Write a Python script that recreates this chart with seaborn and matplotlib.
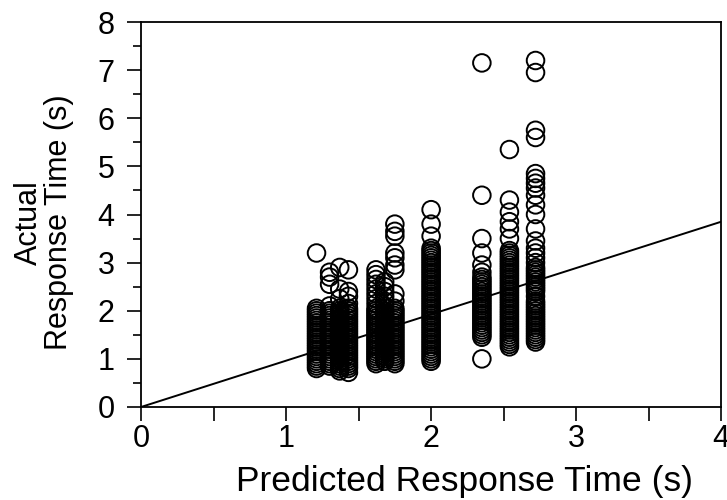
import matplotlib
matplotlib.use("Agg")
import matplotlib.pyplot as plt
import seaborn as sns
import pandas as pd
from matplotlib.ticker import MultipleLocator

# ---- data ----
pred_121 = 1.21
rt_121 = [3.2, 2.05, 2.0, 1.95, 1.9, 1.85, 1.8, 1.75, 1.7, 1.65, 1.6, 1.55, 1.5, 1.45, 1.4,
          1.35, 1.3, 1.25, 1.2, 1.15, 1.1, 1.05, 1.0, 0.95, 0.9, 0.85, 0.8]
pred_130 = 1.30
rt_130 = [2.8, 2.7, 2.55, 2.1, 2.0, 1.95, 1.9, 1.85, 1.8, 1.75, 1.7, 1.65, 1.6, 1.55, 1.5, 1.45,
          1.4, 1.35, 1.3, 1.25, 1.2, 1.15, 1.1, 1.05, 1.0, 0.95, 0.9, 0.85]
pred_137 = 1.37
rt_137 = [2.9, 2.45, 2.25, 2.05, 2.0, 1.95, 1.9, 1.85, 1.8, 1.75, 1.7, 1.65, 1.6, 1.55, 1.5, 1.45,
          1.4, 1.35, 1.3, 1.25, 1.2, 1.15, 1.1, 1.05, 1.0, 0.95, 0.9, 0.85, 0.8, 0.75]
pred_143 = 1.43
rt_143 = [2.85, 2.4, 2.3, 2.15, 2.05, 2.0, 1.95, 1.9, 1.85, 1.8, 1.75, 1.7, 1.65, 1.6, 1.55, 1.5,
          1.45, 1.4, 1.35, 1.3, 1.25, 1.2, 1.15, 1.1, 1.05, 1.0, 0.95, 0.9, 0.85, 0.8, 0.72]
pred_162 = 1.62
rt_162 = [2.85, 2.75, 2.65, 2.55, 2.45, 2.35, 2.25, 2.15, 2.05, 2.0, 1.95, 1.9, 1.85, 1.8, 1.75,
          1.7, 1.65, 1.6, 1.55, 1.5, 1.45, 1.4, 1.35, 1.3, 1.25, 1.2, 1.15, 1.1, 1.05, 1.0, 0.95, 0.9]
pred_168 = 1.68
rt_168 = [2.6, 2.5, 2.4, 2.3, 2.2, 2.1, 2.0, 1.95, 1.9, 1.85, 1.8, 1.75, 1.7, 1.65, 1.6, 1.55,
          1.5, 1.45, 1.4, 1.35, 1.3, 1.25, 1.2, 1.15, 1.1, 1.05, 1.0, 0.95]
pred_175 = 1.75
rt_175 = [3.8, 3.65, 3.55, 3.2, 3.1, 2.95, 2.85, 2.35, 2.2, 2.05, 2.0, 1.95, 1.9, 1.85, 1.8, 1.75,
          1.7, 1.65, 1.6, 1.55, 1.5, 1.45, 1.4, 1.35, 1.3, 1.25, 1.2, 1.15, 1.1, 1.05, 1.0, 0.95, 0.9]
pred_200 = 2.00
rt_200 = [4.1, 3.8, 3.55, 3.3, 3.25, 3.2, 3.15, 3.1, 3.05, 3.0, 2.95, 2.9, 2.85, 2.8, 2.75,
          2.7, 2.65, 2.6, 2.55, 2.5, 2.45, 2.4, 2.35, 2.3, 2.25, 2.2, 2.15, 2.1, 2.05, 2.0,
          1.95, 1.9, 1.85, 1.8, 1.75, 1.7, 1.65, 1.6, 1.55, 1.5, 1.45, 1.4, 1.35, 1.3, 1.25,
          1.2, 1.15, 1.1, 1.05, 1.0, 0.95]
pred_235 = 2.35
rt_235 = [7.15, 4.4, 3.5, 3.2, 2.95, 2.8, 2.7, 2.65, 2.6, 2.55, 2.5, 2.45, 2.4, 2.35, 2.3,
          2.25, 2.2, 2.15, 2.1, 2.05, 2.0, 1.95, 1.9, 1.85, 1.8, 1.75, 1.7, 1.65, 1.6, 1.55,
          1.5, 1.45, 1.0]
pred_254 = 2.54
rt_254 = [5.35, 4.3, 4.05, 3.85, 3.7, 3.5, 3.25, 3.2, 3.15, 3.1, 3.05, 3.0, 2.95, 2.9, 2.85,
          2.8, 2.75, 2.7, 2.65, 2.6, 2.55, 2.5, 2.45, 2.4, 2.35, 2.3, 2.25, 2.2, 2.15, 2.1,
          2.05, 2.0, 1.95, 1.9, 1.85, 1.8, 1.75, 1.7, 1.65, 1.6, 1.55, 1.5, 1.45, 1.4, 1.35,
          1.3, 1.25]
pred_272 = 2.72
rt_272 = [7.2, 6.95, 5.75, 5.6, 4.85, 4.75, 4.65, 4.55, 4.4, 4.2, 4.0, 3.7, 3.45, 3.3, 3.2,
          3.1, 3.0, 2.9, 2.85, 2.8, 2.75, 2.7, 2.65, 2.6, 2.55, 2.5, 2.45, 2.4, 2.3, 2.2,
          2.15, 2.1, 2.05, 2.0, 1.95, 1.9, 1.85, 1.8, 1.75, 1.7, 1.65, 1.6, 1.55, 1.5, 1.45,
          1.4, 1.35]

line_x = [0, 4]
line_y = [0, 3.85]

x_ticks = [0, 1, 2, 3, 4]
y_ticks = [0, 1, 2, 3, 4, 5, 6, 7, 8]

groups = [(pred_121, rt_121), (pred_130, rt_130), (pred_137, rt_137), (pred_143, rt_143),
          (pred_162, rt_162), (pred_168, rt_168), (pred_175, rt_175), (pred_200, rt_200),
          (pred_235, rt_235), (pred_254, rt_254), (pred_272, rt_272)]
rows = []
for p, vals in groups:
    for v in vals:
        rows.append({"predicted": p, "actual": v})
df = pd.DataFrame(rows)

# ---- figure ----
sns.set_theme(style="white")
plt.rcParams['font.family'] = ['Liberation Sans', 'DejaVu Sans']

fig = plt.figure(figsize=(7.27, 5.0), dpi=100)
ax = fig.add_axes([0.194, 0.186, 0.798, 0.770])

sns.lineplot(x=line_x, y=line_y, ax=ax, color="black", linewidth=1.4, zorder=1)
sns.scatterplot(data=df, x="predicted", y="actual", ax=ax, s=160, marker="o",
                facecolor="none", edgecolor="black", linewidth=1.4, zorder=2)

ax.set_xlim(0, 4)
ax.set_ylim(0, 8)
ax.set_xticks(x_ticks)
ax.set_yticks(y_ticks)
ax.xaxis.set_minor_locator(MultipleLocator(0.5))
ax.yaxis.set_minor_locator(MultipleLocator(0.5))
ax.tick_params(axis="both", which="major", direction="out", length=10, width=1.2,
               labelsize=22, color="black", labelcolor="black", bottom=True, left=True,
               top=False, right=False)
ax.tick_params(axis="x", which="major", pad=2)
ax.tick_params(axis="y", which="major", pad=9)
ax.tick_params(axis="x", which="minor", direction="out", length=10, width=1.2,
               bottom=True, color="black")
ax.tick_params(axis="y", which="minor", direction="out", length=6, width=1.2,
               left=True, color="black")

for sp in ax.spines.values():
    sp.set_color("black")
    sp.set_linewidth(1.3)

ax.set_xlabel("Predicted Response Time (s)", fontsize=25.5, color="black")
ax.xaxis.set_label_coords(0.557, -0.15)
ax.set_ylabel("Actual\nResponse Time (s)", fontsize=22, color="black", linespacing=1.0)
ax.yaxis.set_label_coords(-0.115, 0.48)

fig.savefig("out.png", dpi=100)
